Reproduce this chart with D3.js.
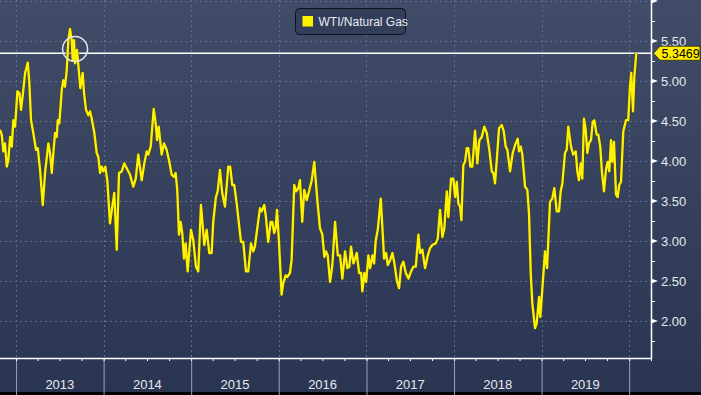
<!DOCTYPE html>
<html>
<head>
<meta charset="utf-8">
<script src="https://cdn.jsdelivr.net/npm/d3@7"></script>
<style>
  html, body { margin: 0; padding: 0; background: #2a3652; }
  svg { display: block; font-family: "Liberation Sans", Arial, sans-serif; }
</style>
</head>
<body>
<svg id="chart"></svg>
<script>
const width = 701;
const height = 395;
const plotRight = 651;
const plotBottom = 358;

// decimal years
const dates = [
  2012.817, 2012.837, 2012.855, 2012.874, 2012.894, 2012.912, 2012.932, 2012.951, 2012.969, 2012.989,
  2013.015, 2013.038, 2013.057, 2013.083, 2013.103, 2013.134, 2013.152, 2013.171, 2013.197, 2013.228,
  2013.248, 2013.274, 2013.305, 2013.331, 2013.369, 2013.388, 2013.408, 2013.426, 2013.445, 2013.465,
  2013.476, 2013.494, 2013.522, 2013.540, 2013.559, 2013.579, 2013.597, 2013.616, 2013.636, 2013.647,
  2013.662, 2013.674, 2013.696, 2013.716, 2013.734, 2013.761, 2013.776, 2013.799, 2013.825, 2013.845,
  2013.864, 2013.894, 2013.921, 2013.940, 2013.959, 2013.978, 2013.997, 2014.019, 2014.042, 2014.073,
  2014.099, 2014.122, 2014.150, 2014.176, 2014.207, 2014.236, 2014.264, 2014.301,
  2014.339, 2014.367, 2014.396, 2014.435, 2014.465, 2014.492, 2014.510, 2014.538, 2014.572, 2014.595,
  2014.610, 2014.629, 2014.663, 2014.690, 2014.720, 2014.747, 2014.777, 2014.804, 2014.823, 2014.841,
  2014.861, 2014.880, 2014.898, 2014.918, 2014.937, 2014.960, 2014.998, 2015.024, 2015.055, 2015.081,
  2015.112, 2015.150, 2015.177, 2015.207, 2015.234, 2015.252, 2015.283, 2015.303, 2015.329, 2015.355,
  2015.386, 2015.424, 2015.446, 2015.469, 2015.492, 2015.520, 2015.569, 2015.595, 2015.626, 2015.652,
  2015.683, 2015.709,
  2015.728, 2015.748, 2015.786, 2015.805, 2015.835, 2015.854, 2015.880, 2015.908, 2015.926, 2015.949,
  2015.965, 2015.980, 2016.002, 2016.033, 2016.051, 2016.079, 2016.097, 2016.128, 2016.147, 2016.177,
  2016.200, 2016.223, 2016.242, 2016.268, 2016.291, 2016.319, 2016.345, 2016.376, 2016.405, 2016.440,
  2016.470, 2016.497, 2016.520, 2016.539, 2016.558, 2016.585, 2016.611, 2016.642, 2016.673, 2016.699,
  2016.725, 2016.756, 2016.782, 2016.805, 2016.824, 2016.851, 2016.870, 2016.889, 2016.916, 2016.939,
  2016.953, 2016.976, 2016.996, 2017.022, 2017.041, 2017.068, 2017.087, 2017.106, 2017.129, 2017.163,
  2017.201, 2017.224,
  2017.243, 2017.270, 2017.296, 2017.319, 2017.346, 2017.372, 2017.395, 2017.421, 2017.449, 2017.479,
  2017.509, 2017.536, 2017.563, 2017.593, 2017.612, 2017.638, 2017.669, 2017.700, 2017.726, 2017.752,
  2017.791, 2017.814, 2017.840, 2017.867, 2017.889, 2017.917, 2017.935, 2017.966, 2017.992, 2018.012,
  2018.031, 2018.049, 2018.069, 2018.084, 2018.106, 2018.126, 2018.145, 2018.163, 2018.186, 2018.209,
  2018.240, 2018.266, 2018.289, 2018.316, 2018.346, 2018.374, 2018.403, 2018.431, 2018.449, 2018.468,
  2018.488, 2018.514, 2018.545, 2018.568, 2018.590, 2018.609, 2018.640, 2018.670, 2018.697,
  2018.727, 2018.742, 2018.762, 2018.780, 2018.811, 2018.837, 2018.856, 2018.876, 2018.894, 2018.925,
  2018.944, 2018.971, 2018.985, 2019.013, 2019.039, 2019.062, 2019.077, 2019.096, 2019.122, 2019.145,
  2019.173, 2019.199, 2019.218, 2019.237, 2019.267, 2019.287, 2019.305, 2019.336, 2019.362, 2019.390,
  2019.408, 2019.427, 2019.447, 2019.465, 2019.484, 2019.504, 2019.522, 2019.541, 2019.564, 2019.584,
  2019.602, 2019.629, 2019.648, 2019.670, 2019.690, 2019.713, 2019.735, 2019.755, 2019.773, 2019.793,
  2019.807, 2019.827, 2019.850, 2019.869, 2019.887, 2019.907, 2019.933, 2019.964, 2019.990, 2020.009,
  2020.024, 2020.044, 2020.059, 2020.081
];

const ratio = [
  4.39, 4.33, 4.12, 4.22, 3.93, 4.01, 4.30, 4.18, 4.51, 4.43,
  4.87, 4.85, 4.64, 4.89, 5.10, 5.23, 4.97, 4.51, 4.35, 4.14,
  4.16, 3.89, 3.45, 3.85, 4.22, 4.10, 3.85, 4.10, 4.35, 4.30,
  4.51, 4.47, 4.89, 5.01, 4.93, 5.14, 5.51, 5.65, 5.51, 5.26,
  5.51, 5.22, 5.39, 5.14, 4.91, 5.10, 4.85, 4.64, 4.57, 4.62,
  4.53, 4.35, 4.10, 4.05, 3.85, 3.93, 3.87, 3.93, 3.76, 3.22,
  3.43, 3.60, 2.89, 3.85, 3.87, 3.97, 3.91, 3.83,
  3.68, 3.78, 4.08, 3.76, 3.97, 4.12, 4.08, 4.18, 4.65, 4.47,
  4.26, 4.43, 4.08, 4.22, 4.14, 4.01, 3.83, 3.80, 3.85, 3.64,
  3.08, 3.24, 3.10, 2.78, 2.97, 2.62, 3.14, 3.01, 2.68, 2.62,
  3.45, 2.95, 3.14, 2.85, 2.85, 3.24, 3.55, 3.62, 3.89, 3.60,
  3.43, 3.93, 3.93, 3.70, 3.70, 3.47, 2.99, 2.99, 2.62, 2.62,
  2.97, 2.87,
  2.93, 3.10, 3.41, 3.37, 3.45, 3.30, 2.99, 3.24, 3.24, 3.10,
  3.16, 3.39, 3.01, 2.33, 2.47, 2.57, 2.55, 2.60, 2.76, 3.70,
  3.62, 3.66, 3.76, 3.24, 3.64, 3.51, 3.62, 3.76, 3.99, 3.51,
  3.16, 3.08, 2.80, 2.87, 2.82, 2.49, 2.70, 3.24, 2.82, 2.82,
  2.53, 2.87, 2.66, 2.68, 2.93, 2.72, 2.78, 2.85, 2.60, 2.60,
  2.37, 2.60, 2.49, 2.82, 2.66, 2.82, 2.72, 3.01, 3.14, 3.53,
  2.78, 2.85,
  2.70, 2.76, 2.85, 2.72, 2.51, 2.41, 2.68, 2.74, 2.60, 2.53,
  2.62, 2.68, 2.68, 3.08, 2.85, 2.89, 2.66, 2.82, 2.91, 2.95,
  2.97, 3.03, 3.39, 3.05, 3.16, 3.62, 3.30, 3.78, 3.78, 3.55,
  3.74, 3.47, 3.43, 3.26, 3.95, 3.99, 4.16, 4.16, 3.93, 3.93,
  4.38, 3.97, 4.26, 4.30, 4.43, 4.35, 4.14, 3.87, 3.85, 3.72,
  4.01, 4.41, 4.45, 4.37, 4.18, 4.14, 3.87, 4.10, 4.20,
  4.28, 4.12, 4.18, 4.08, 3.68, 3.64, 3.35, 2.60, 2.22, 1.91,
  1.97, 2.30, 2.05, 2.47, 2.87, 2.66, 3.01, 3.49, 3.53, 3.66,
  3.37, 3.37, 3.62, 3.72, 4.10, 4.14, 4.43, 4.18, 4.08, 4.12,
  3.87, 3.76, 3.97, 3.78, 4.53, 4.39, 4.10, 4.22, 4.26, 4.49,
  4.51, 4.33, 4.33, 4.18, 3.85, 3.62, 3.89, 3.99, 3.87, 4.26,
  3.99, 4.24, 3.58, 3.55, 3.70, 3.74, 4.37, 4.51, 4.51, 4.93,
  5.10, 4.62, 5.05, 5.3469
];

const yearLabels = ['2013', '2014', '2015', '2016', '2017', '2018', '2019'];
const yMajor = [2.0, 2.5, 3.0, 3.5, 4.0, 4.5, 5.0, 5.5, 6.0];
const yLabels = [2.0, 2.5, 3.0, 3.5, 4.0, 4.5, 5.0, 5.5];
const yMinor = [1.75, 2.25, 2.75, 3.25, 3.75, 4.25, 4.75, 5.25, 5.75];
const legendLabel = 'WTI/Natural Gas';
const lastValue = 5.3469;
const circled = [2013.674, 5.40];

function toDate(t) {
  const yr = Math.floor(t);
  const a = new Date(yr, 0, 1), b = new Date(yr + 1, 0, 1);
  return new Date(+a + (t - yr) * (b - a));
}

const data = dates.map((t, i) => ({ date: toDate(t), v: ratio[i] }));

const x = d3.scaleTime()
  .domain([toDate(2012.817), toDate(2020.249)])
  .range([0, plotRight]);
const y = d3.scaleLinear().domain([1.5375, 6.0125]).range([plotBottom, 0]);

const svg = d3.select('#chart').attr('width', width).attr('height', height);

const defs = svg.append('defs');
const grad = defs.append('linearGradient').attr('id', 'bg')
  .attr('x1', 0).attr('y1', 0).attr('x2', 0).attr('y2', 1);
grad.append('stop').attr('offset', '0%').attr('stop-color', '#414d68');
grad.append('stop').attr('offset', '90%').attr('stop-color', '#2b3754');
grad.append('stop').attr('offset', '100%').attr('stop-color', '#2a3552');
defs.append('clipPath').attr('id', 'plot')
  .append('rect').attr('width', plotRight).attr('height', plotBottom);

svg.append('rect').attr('width', width).attr('height', height).attr('fill', 'url(#bg)');
svg.append('rect').attr('y', height - 3).attr('width', width).attr('height', 3).attr('fill', '#000');

// grid
const g = svg.append('g');
g.selectAll('.hgrid').data(yMajor).enter().append('line')
  .attr('x1', 0).attr('x2', plotRight)
  .attr('y1', d => Math.round(y(d)) + 0.5).attr('y2', d => Math.round(y(d)) + 0.5)
  .attr('stroke', '#5d6f8c').attr('stroke-dasharray', '2,3');

const years = d3.timeYear.range(d3.timeYear.ceil(x.domain()[0]), x.domain()[1]);
g.selectAll('.vgrid').data(years).enter().append('line')
  .attr('x1', d => Math.round(x(d)) + 0.5).attr('x2', d => Math.round(x(d)) + 0.5)
  .attr('y1', 0).attr('y2', plotBottom)
  .attr('stroke', '#5d6f8c').attr('stroke-dasharray', '2,3');

// bottom axis: year separators, quarterly ticks
const xAxisG = svg.append('g').attr('transform', `translate(0,${plotBottom})`);
xAxisG.append('g')
  .call(d3.axisBottom(x).ticks(d3.timeYear.every(1)).tickSize(height - plotBottom).tickFormat(''))
  .call(a => a.select('.domain').remove())
  .call(a => a.selectAll('line').attr('stroke', '#9aa3b5'));
xAxisG.append('g')
  .call(d3.axisBottom(x).ticks(d3.timeMonth.every(3)).tickSize(3).tickFormat(''))
  .call(a => a.select('.domain').remove())
  .call(a => a.selectAll('line').attr('stroke', '#ffffff'));
xAxisG.append('line').attr('x1', 0).attr('x2', plotRight).attr('y1', 0.5).attr('y2', 0.5)
  .attr('stroke', '#ffffff').attr('stroke-width', 1.5);

xAxisG.selectAll('.yearLabel').data(yearLabels).enter().append('text')
  .attr('x', d => (x(new Date(+d, 0, 1)) + x(new Date(+d + 1, 0, 1))) / 2)
  .attr('y', 31)
  .attr('text-anchor', 'middle')
  .attr('fill', '#e6e8ee')
  .attr('font-size', 13)
  .text(d => d);

// right axis
const yAxisG = svg.append('g').attr('transform', `translate(${plotRight},0)`);
yAxisG.append('g')
  .call(d3.axisRight(y).tickValues(yMinor).tickSize(4).tickFormat(''))
  .call(a => a.select('.domain').remove())
  .call(a => a.selectAll('line').attr('stroke', '#ffffff'));
yAxisG.append('g')
  .call(d3.axisRight(y).tickValues(yLabels).tickSize(0).tickPadding(10).tickFormat(d3.format('.2f')))
  .call(a => a.select('.domain').remove())
  .call(a => a.selectAll('text').attr('fill', '#e6e8ee').attr('font-size', 13)
    .attr('font-family', '"Liberation Sans", Arial, sans-serif'));
yAxisG.selectAll('.tri').data(yMajor).enter().append('path')
  .attr('d', d => `M0,${y(d) - 2.5}L7,${y(d)}L0,${y(d) + 2.5}Z`)
  .attr('fill', '#ffffff');
yAxisG.append('line').attr('x1', 0.5).attr('x2', 0.5).attr('y1', 0).attr('y2', plotBottom + 1)
  .attr('stroke', '#ffffff').attr('stroke-width', 1.5);

// last value reference line
svg.append('line')
  .attr('x1', 0).attr('x2', plotRight)
  .attr('y1', y(lastValue)).attr('y2', y(lastValue))
  .attr('stroke', '#ffffff').attr('stroke-width', 1.5);

// series
const line = d3.line().x(d => x(d.date)).y(d => y(d.v));
const lg = svg.append('g').attr('clip-path', 'url(#plot)');
lg.append('path').datum(data).attr('d', line)
  .attr('fill', 'none').attr('stroke', '#46452a').attr('stroke-width', 3.8)
  .attr('stroke-linejoin', 'round').attr('opacity', 0.8);
lg.append('path').datum(data).attr('d', line)
  .attr('fill', 'none').attr('stroke', '#fff200').attr('stroke-width', 2.3)
  .attr('stroke-linejoin', 'round');

// circle annotation
svg.append('circle')
  .attr('cx', x(toDate(circled[0]))).attr('cy', y(circled[1])).attr('r', 12.5)
  .attr('fill', 'none').attr('stroke', '#e4e6ec').attr('stroke-width', 1.5);

// last value tag
const ly = y(lastValue);
const tag = svg.append('g');
tag.append('path')
  .attr('d', `M${plotRight + 2.5},${ly}L${plotRight + 9},${ly - 7}H${width - 1}V${ly + 7}H${plotRight + 9}Z`)
  .attr('fill', '#ffee00').attr('stroke', '#2a2a10').attr('stroke-width', 0.8);
tag.append('text')
  .attr('x', plotRight + 10.5).attr('y', ly + 4.6)
  .attr('font-size', 12.5).attr('fill', '#000')
  .text(d3.format('.4f')(lastValue));

// legend
const leg = svg.append('g').attr('transform', 'translate(295.5,8.5)');
leg.append('rect').attr('width', 110).attr('height', 26).attr('rx', 4)
  .attr('fill', '#323e5a').attr('stroke', '#0d1220');
leg.append('rect').attr('x', 7).attr('y', 7.5).attr('width', 10.5).attr('height', 10.5).attr('fill', '#fff200');
leg.append('text').attr('x', 23).attr('y', 17.5)
  .attr('font-size', 12).attr('fill', '#e8eaf0')
  .text(legendLabel);
</script>
</body>
</html>
